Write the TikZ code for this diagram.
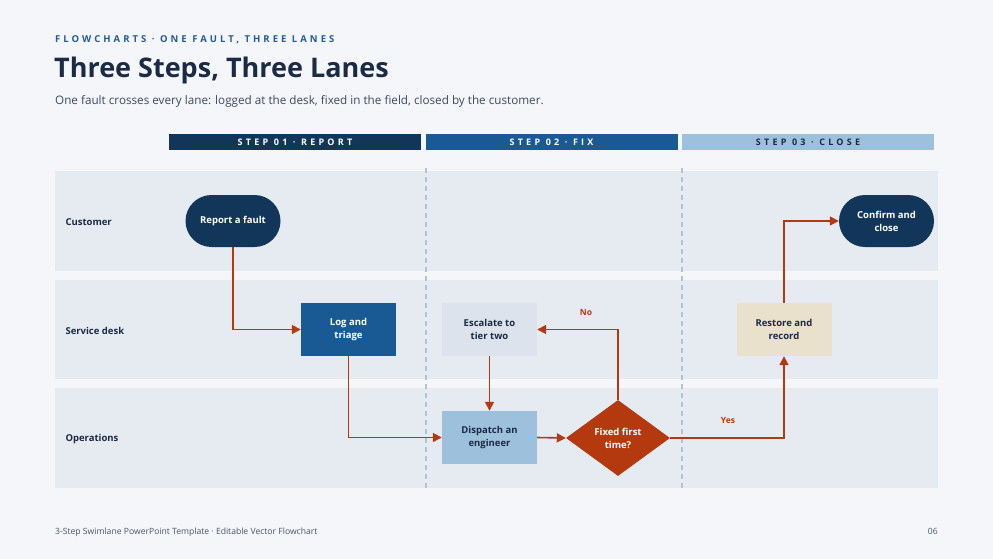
\documentclass[tikz,border=0pt]{standalone}
\usepackage{fontspec}
\setmainfont{Open Sans}
\usetikzlibrary{shapes.geometric,arrows.meta}
\definecolor{bg}{HTML}{F4F6FA}
\definecolor{navy}{HTML}{12365A}
\definecolor{mid}{HTML}{1A5A94}
\definecolor{light}{HTML}{9DC0DD}
\definecolor{lane}{HTML}{E6EBF2}
\definecolor{esc}{HTML}{DCE3EC}
\definecolor{sand}{HTML}{EAE1CC}
\definecolor{rust}{HTML}{B5390F}
\definecolor{ink}{HTML}{1B2A45}
\definecolor{kick}{HTML}{1F5C99}
\definecolor{dashc}{HTML}{A9C5DE}
\begin{document}
\begin{tikzpicture}[x=1pt,y=-1pt,
 lanelbl/.style={anchor=west,font=\fontsize{9.5}{11}\selectfont\bfseries,text=ink},
 stepbar/.style={draw=none,minimum height=16pt,minimum width=252pt,font=\fontsize{9}{9}\selectfont\bfseries\addfontfeatures{LetterSpace=36}},
 box/.style={draw=none,minimum width=95pt,minimum height=53pt,align=center,font=\fontsize{9.5}{13}\selectfont\bfseries},
 pill/.style={box,rounded corners=26pt,fill=navy,text=white,minimum width=95pt,minimum height=52pt},
 arr/.style={draw=rust,line width=1.6pt,-{Triangle[length=9pt,width=9pt]}},
 lbl/.style={font=\fontsize{8.5}{10}\selectfont\bfseries,text=rust},
 divider/.style={draw=dashc,line width=1.2pt,dash pattern=on 5pt off 4pt}]
\fill[bg] (0,0) rectangle (993,559);
\node[anchor=base west,inner sep=0pt,font=\fontsize{9.5}{10}\selectfont\bfseries\addfontfeatures{LetterSpace=32},text=kick] (kick) at (55,43) {FLOWCHARTS · ONE FAULT, THREE LANES};
\node[anchor=base west,inner sep=0pt,font=\fontsize{27}{30}\selectfont\bfseries,text=ink] (title) at (54,78) {Three Steps, Three Lanes};
\node[anchor=base west,inner sep=0pt,font=\fontsize{11.7}{13}\selectfont,text=ink!85] (sub) at (55,105) {One fault crosses every lane: logged at the desk, fixed in the field, closed by the customer.};
\node[stepbar,fill=navy,text=white] (s1) at (295,142) {STEP 01 · REPORT};
\node[stepbar,fill=mid,text=white] (s2) at (551.5,142) {STEP 02 · FIX};
\node[stepbar,fill=light,text=ink] (s3) at (808,142) {STEP 03 · CLOSE};
\fill[lane] (55,171) rectangle (938,271);
\fill[lane] (55,280) rectangle (938,379);
\fill[lane] (55,388) rectangle (938,488);
\draw[divider] (426,168) -- (426,490);
\draw[divider] (682,168) -- (682,490);
\node[lanelbl] (l1) at (62,222) {Customer};
\node[lanelbl] (l2) at (62,331) {Service desk};
\node[lanelbl] (l3) at (62,439) {Operations};
\node[pill] (report) at (233,221) {Report a fault};
\node[box,fill=mid,text=white] (log) at (348.5,329.5) {Log and\\triage};
\node[box,fill=esc,text=ink] (esc) at (489.5,329.5) {Escalate to\\tier two};
\node[box,fill=light,text=ink] (disp) at (489.5,437.5) {Dispatch an\\engineer};
\node[diamond,aspect=1.37,fill=rust,text=white,inner sep=0pt,minimum width=104pt,minimum height=76pt,align=center,font=\fontsize{9.5}{13}\selectfont\bfseries] (dec) at (618,438) {Fixed first\\time?};
\node[box,fill=sand,text=ink] (rest) at (784,329.5) {Restore and\\record};
\node[pill] (conf) at (886.5,221) {Confirm and\\close};
\draw[arr] (report.south) |- (log.west);
\draw[arr] (log.south) |- (disp.west);
\draw[arr] (disp.east) -- (dec.west);
\draw[arr] (dec.north) |- (esc.east);
\draw[arr] (esc.south) -- (disp.north);
\draw[arr] (dec.east) -| (rest.south);
\draw[arr] (rest.north) |- (conf.west);
\node[lbl] (no) at (586,313) {No};
\node[lbl] (yes) at (728,421) {Yes};
\node[anchor=base west,inner sep=0pt,font=\fontsize{8.6}{9}\selectfont,text=ink!80] (foot) at (55,534) {3-Step Swimlane PowerPoint Template · Editable Vector Flowchart};
\node[anchor=base east,inner sep=0pt,font=\fontsize{8.6}{9}\selectfont,text=ink!80] (pg) at (938,534) {06};
\end{tikzpicture}
\end{document}
